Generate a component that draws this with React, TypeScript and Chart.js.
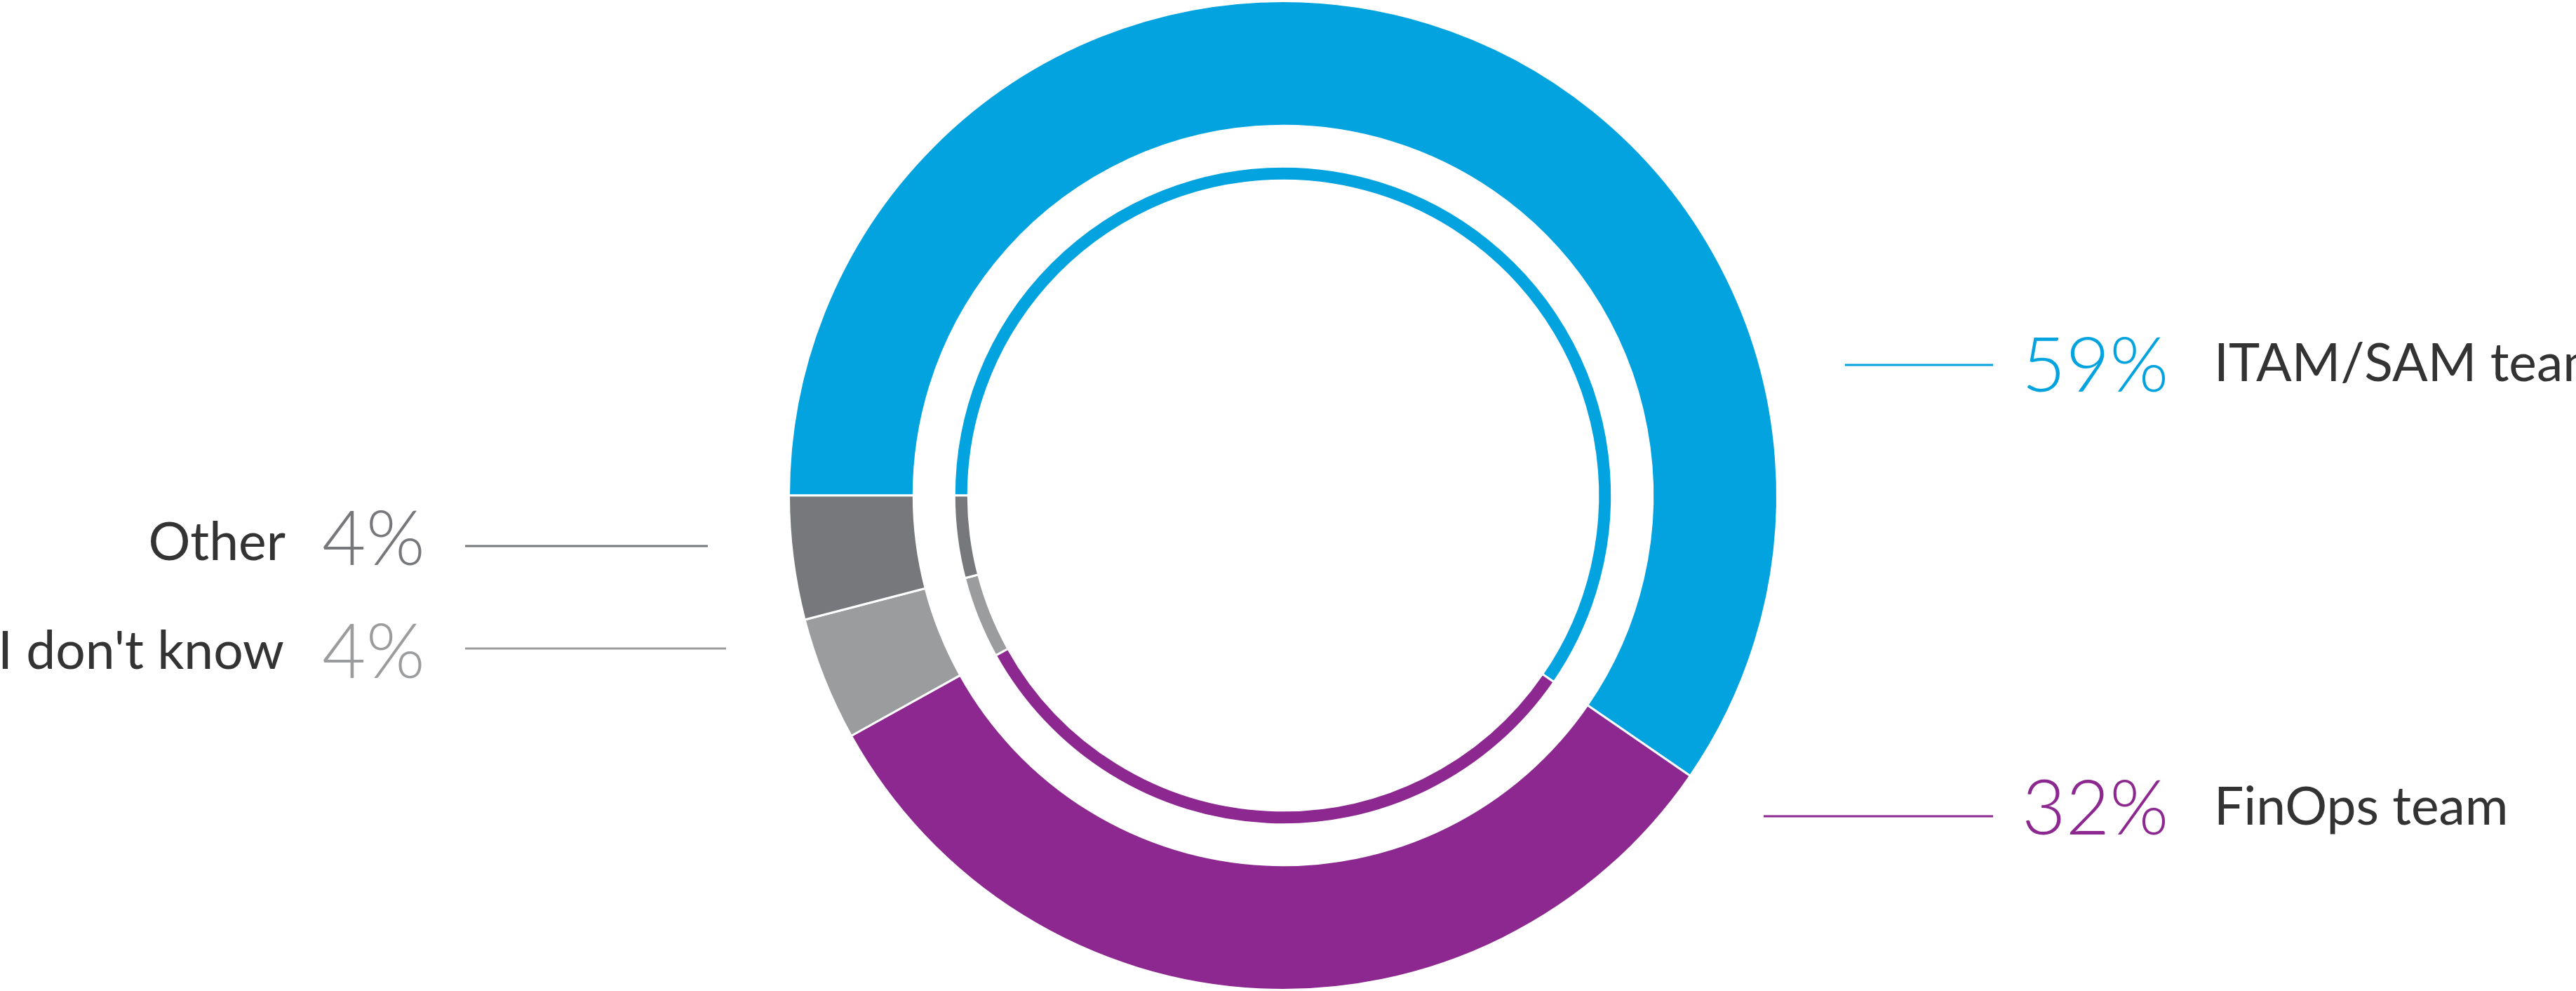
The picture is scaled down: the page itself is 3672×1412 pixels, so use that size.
import { useEffect, useRef } from 'react'
import { Chart, Plugin } from 'chart.js/auto'

const categories = ['ITAM/SAM team', 'FinOps team', "I don't know", 'Other']
const shares = [59, 32, 4, 4]
const colors = ['#03a3e0', '#8c2890', '#9b9c9e', '#77787b']

// label placement, offsets from the chart centre
const labelLayout = [
  { side: 'right', lineX1: 801, lineX2: 1012, lineY: -186, pctX: 1053, pctY: -148, nameX: 1327, nameY: -163 },
  { side: 'right', lineX1: 685, lineX2: 1012, lineY: 457, pctX: 1053, pctY: 483, nameX: 1327, nameY: 469 },
  { side: 'left', lineX1: -1166, lineX2: -794, lineY: 218, pctX: -1370, pctY: 260, nameX: -1424, nameY: 247 },
  { side: 'left', lineX1: -1166, lineX2: -820, lineY: 72, pctX: -1370, pctY: 99, nameX: -1422, nameY: 92 },
]

const W = 3672
const H = 1412

const labelsPlugin: Plugin = {
  id: 'sideLabels',
  afterDraw(chart) {
    const arc: any = chart.getDatasetMeta(0).data[0]
    if (!arc) return
    const cx = arc.x
    const cy = arc.y
    const ctx = chart.ctx
    ctx.save()
    labelLayout.forEach((l, i) => {
      ctx.strokeStyle = colors[i]
      ctx.lineWidth = 3
      ctx.beginPath()
      ctx.moveTo(cx + l.lineX1, cy + l.lineY)
      ctx.lineTo(cx + l.lineX2, cy + l.lineY)
      ctx.stroke()

      ctx.textBaseline = 'alphabetic'
      ctx.fillStyle = colors[i]
      ctx.font = '300 108px Lato, "Open Sans", sans-serif'
      ctx.textAlign = 'left'
      ctx.fillText(shares[i] + '%', cx + l.pctX, cy + l.pctY)

      ctx.fillStyle = '#333333'
      ctx.font = '400 75px Lato, "Open Sans", sans-serif'
      ctx.textAlign = l.side === 'right' ? 'left' : 'right'
      ctx.fillText(categories[i], cx + l.nameX, cy + l.nameY)
    })
    ctx.restore()
  },
}

export default function App() {
  const chartRef = useRef<HTMLCanvasElement>(null)

  useEffect(() => {
    document.body.style.margin = '0'
    if (!chartRef.current) return
    const ctx = chartRef.current.getContext('2d')
    if (!ctx) return

    const chart = new Chart(ctx, {
      type: 'doughnut',
      data: {
        labels: categories,
        datasets: [
          {
            data: shares,
            backgroundColor: colors,
            borderColor: '#ffffff',
            borderWidth: 3,
            weight: 178,
          },
          {
            // empty ring between the two bands
            data: [1],
            backgroundColor: 'rgba(0,0,0,0)',
            borderWidth: 0,
            weight: 58,
          },
          {
            data: shares,
            backgroundColor: colors,
            borderColor: '#ffffff',
            borderWidth: 3,
            weight: 20,
          },
        ],
      },
      options: {
        responsive: false,
        animation: false,
        rotation: -90,
        cutout: '63.7%',
        hoverOffset: 0,
        layout: {
          padding: { left: 1123, right: 1137, top: 0, bottom: 0 },
        },
        plugins: {
          legend: { display: false },
          tooltip: { enabled: false },
        },
      },
      plugins: [labelsPlugin],
    } as any)

    return () => {
      chart.destroy()
    }
  }, [])

  return (
    <div style={{ width: W, height: H, background: '#ffffff' }}>
      <canvas ref={chartRef} width={W} height={H} style={{ display: 'block' }}></canvas>
    </div>
  )
}
